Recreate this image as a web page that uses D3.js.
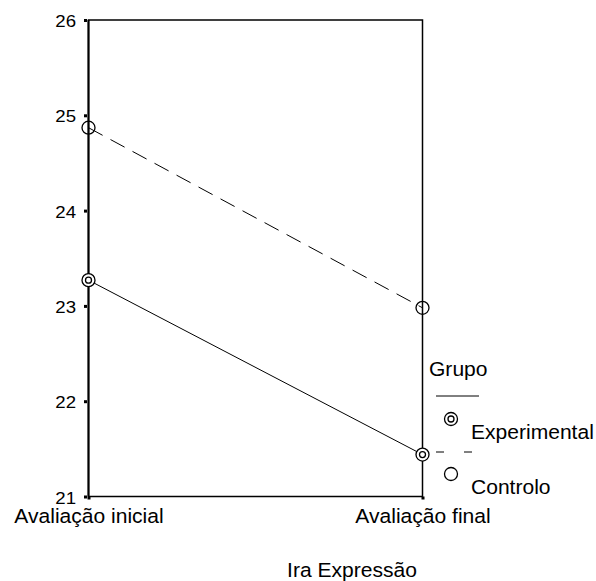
<!DOCTYPE html>
<html><head><meta charset="utf-8">
<script src="https://cdn.jsdelivr.net/npm/d3@7"></script>
<style>body{margin:0;background:#fff}svg{display:block}text{font-family:"Liberation Sans",Arial,sans-serif;fill:#000}</style>
</head><body>
<script>
const categories = ["Avaliação inicial", "Avaliação final"];
const seriesNames = ["Experimental", "Controlo"];
const experimental = [23.27, 21.44];
const controlo = [24.87, 22.98];
const yTicks = [21, 22, 23, 24, 25, 26];
const xTitle = "Ira Expressão";
const legendTitle = "Grupo";

const W = 596, H = 581;
const FS = 19.5, SX = 1.08, FSD = 16.5, SXD = 1.13;
const svg = d3.select("body").append("svg").attr("width", W).attr("height", H);
const x = d3.scalePoint().domain(categories).range([88.5, 422.5]);
const y = d3.scaleLinear().domain([21, 26]).range([496.5, 20]);

function stext(sel, tx, ty, str, anchor) {
  return sel.append("text").attr("transform", `translate(${tx},${ty}) scale(${SX},1)`)
    .attr("text-anchor", anchor || "start").attr("font-size", FS).text(str);
}

// frame
svg.append("path").attr("d", `M${x.range()[0]},${y(26)}H${x.range()[1]}V${y(21)}H${x.range()[0]}Z`)
  .attr("fill", "none").attr("stroke", "#000").attr("stroke-width", 1.5);
svg.append("line").attr("x1", x.range()[0]).attr("x2", x.range()[0]).attr("y1", y(26)).attr("y2", y(21))
  .attr("stroke", "#000").attr("stroke-width", 2);

// y axis ticks
const yAxis = d3.axisLeft(y).tickValues(yTicks).tickSize(0).tickPadding(0).tickFormat(d3.format("d"));
const ya = svg.append("g").attr("transform", `translate(${x.range()[0]},0)`).call(yAxis);
ya.select(".domain").remove();
ya.selectAll("text").attr("x", 0).attr("font-size", FSD).attr("dy", "0.4em")
  .attr("transform", `translate(-12.5,0) scale(${SXD},1)`)
  .style("font-family", "Liberation Sans, Arial, sans-serif");
ya.selectAll(".tick").append("rect").attr("x", -4.5).attr("y", -1.5).attr("width", 3).attr("height", 3).attr("fill", "#000");

// x axis
const xAxis = d3.axisBottom(x).tickSize(0).tickPadding(0);
const xa = svg.append("g").attr("transform", `translate(0,${y(21)})`).call(xAxis);
xa.select(".domain").remove();
xa.selectAll("text").attr("y", 0).attr("dy", 0).attr("font-size", FS)
  .attr("transform", `translate(0,26.5) scale(${SX},1)`)
  .style("font-family", "Liberation Sans, Arial, sans-serif");
xa.selectAll(".tick").append("rect").attr("x", -1.5).attr("y", 0).attr("width", 3).attr("height", 3).attr("fill", "#000");

stext(svg, 352, 577, xTitle, "middle");

const line = d3.line().x((d, i) => x(categories[i])).y(d => y(d));
svg.append("path").datum(controlo).attr("d", line).attr("fill", "none").attr("stroke", "#000")
  .attr("stroke-width", 1).attr("stroke-dasharray", "16,9");
svg.append("path").datum(experimental).attr("d", line).attr("fill", "none").attr("stroke", "#000").attr("stroke-width", 1);

function markerExp(sel, cx, cy) {
  sel.append("circle").attr("cx", cx).attr("cy", cy).attr("r", 6.5).attr("fill", "#fff").attr("stroke", "#000").attr("stroke-width", 1.3);
  sel.append("circle").attr("cx", cx).attr("cy", cy).attr("r", 3).attr("fill", "none").attr("stroke", "#000").attr("stroke-width", 1.3);
}
function markerCtl(sel, cx, cy) {
  sel.append("circle").attr("cx", cx).attr("cy", cy).attr("r", 6.5).attr("fill", "none").attr("stroke", "#000").attr("stroke-width", 1.3);
}
experimental.forEach((v, i) => markerExp(svg, x(categories[i]), y(v)));
controlo.forEach((v, i) => markerCtl(svg, x(categories[i]), y(v)));

// legend
const lg = svg.append("g");
stext(lg, 429, 376, legendTitle);
lg.append("line").attr("x1", 436).attr("x2", 479).attr("y1", 396).attr("y2", 396).attr("stroke", "#000").attr("stroke-width", 1);
markerExp(lg, 451, 419);
stext(lg, 471, 439, seriesNames[0]);
lg.append("line").attr("x1", 436).attr("x2", 479).attr("y1", 452).attr("y2", 452).attr("stroke", "#000").attr("stroke-width", 1).attr("stroke-dasharray", "8,20");
markerCtl(lg, 451, 474);
stext(lg, 471, 494, seriesNames[1]);
</script>
</body></html>
